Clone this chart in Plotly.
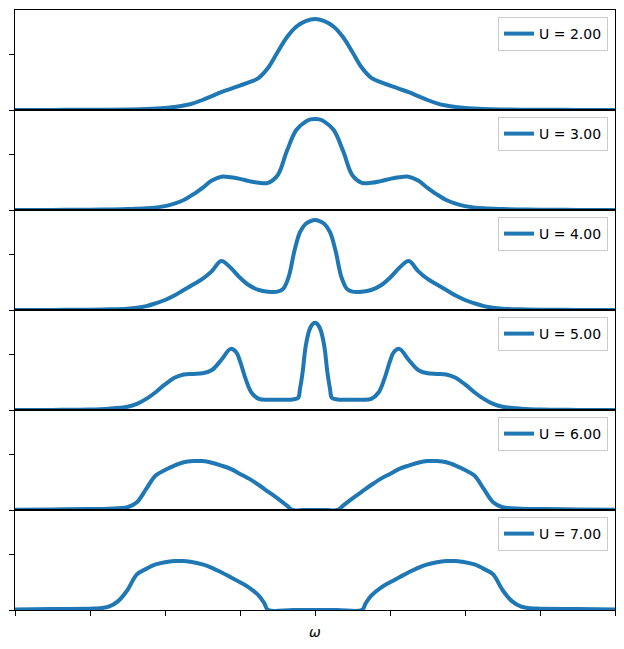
import plotly.graph_objects as go
from plotly.subplots import make_subplots

# ---- data (omega, spectral function) ----
w_u2 = [-8, -7, -6, -5.5, -5, -4.5, -4, -3.75, -3.5, -3.25, -3, -2.75, -2.5, -2.25, -2, -1.75, -1.5, -1.25, -1, -0.75, -0.5, -0.25, 0,
        0.25, 0.5, 0.75, 1, 1.25, 1.5, 1.75, 2, 2.25, 2.5, 2.75, 3, 3.25, 3.5, 3.75, 4, 4.5, 5, 5.5, 6, 7, 8]
a_u2 = [0.0, 0.001, 0.002, 0.003, 0.005, 0.009, 0.018, 0.027, 0.04, 0.06, 0.09, 0.125, 0.16, 0.19, 0.22, 0.25, 0.29, 0.38, 0.52, 0.655, 0.75, 0.80, 0.82,
        0.80, 0.75, 0.655, 0.52, 0.38, 0.29, 0.25, 0.22, 0.19, 0.16, 0.125, 0.09, 0.06, 0.04, 0.027, 0.018, 0.009, 0.005, 0.003, 0.002, 0.001, 0.0]

w_u3 = [-8, -7, -6, -5.5, -5, -4.5, -4, -3.75, -3.5, -3.25, -3, -2.75, -2.5, -2.25, -2, -1.75, -1.5, -1.25, -1, -0.75, -0.5, -0.25, -0.12, 0,
        0.12, 0.25, 0.5, 0.75, 1, 1.25, 1.5, 1.75, 2, 2.25, 2.5, 2.75, 3, 3.25, 3.5, 3.75, 4, 4.5, 5, 5.5, 6, 7, 8]
a_u3 = [0.0, 0.001, 0.003, 0.005, 0.008, 0.015, 0.035, 0.058, 0.09, 0.14, 0.20, 0.265, 0.30, 0.295, 0.28, 0.26, 0.245, 0.245, 0.31, 0.53, 0.72, 0.795, 0.815, 0.82,
        0.815, 0.795, 0.72, 0.53, 0.31, 0.245, 0.245, 0.26, 0.28, 0.295, 0.30, 0.265, 0.20, 0.14, 0.09, 0.058, 0.035, 0.015, 0.008, 0.005, 0.003, 0.001, 0.0]

w_u4 = [-8, -7, -6, -5.5, -5, -4.75, -4.5, -4.25, -4, -3.75, -3.5, -3.25, -3, -2.75, -2.5, -2.25, -2, -1.75, -1.5, -1.25, -1, -0.85, -0.7, -0.55, -0.4, -0.25, -0.12, 0,
        0.12, 0.25, 0.4, 0.55, 0.7, 0.85, 1, 1.25, 1.5, 1.75, 2, 2.25, 2.5, 2.75, 3, 3.25, 3.5, 3.75, 4, 4.25, 4.5, 4.75, 5, 5.5, 6, 7, 8]
a_u4 = [0.0, 0.001, 0.003, 0.006, 0.012, 0.02, 0.035, 0.06, 0.09, 0.13, 0.18, 0.23, 0.28, 0.35, 0.44, 0.38, 0.29, 0.22, 0.18, 0.165, 0.165, 0.19, 0.30, 0.53, 0.70, 0.775, 0.80, 0.81,
        0.80, 0.775, 0.70, 0.53, 0.30, 0.19, 0.165, 0.165, 0.18, 0.22, 0.29, 0.38, 0.44, 0.35, 0.28, 0.23, 0.18, 0.13, 0.09, 0.06, 0.035, 0.02, 0.012, 0.006, 0.003, 0.001, 0.0]

w_u5 = [-8, -7, -6, -5.5, -5, -4.75, -4.5, -4.25, -4, -3.75, -3.5, -3.25, -3, -2.75, -2.5, -2.25, -2.1, -2, -1.85, -1.7, -1.5,
        -1.25, -1, -0.75, -0.6, -0.45, -0.4, -0.33, -0.25, -0.15, -0.07, 0,
        0.07, 0.15, 0.25, 0.33, 0.4, 0.45, 0.6, 0.75, 1, 1.25,
        1.5, 1.7, 1.85, 2, 2.1, 2.25, 2.5, 2.75, 3, 3.25, 3.5, 3.75, 4, 4.25, 4.5, 4.75, 5, 5.5, 6, 7, 8]
a_u5 = [0.0, 0.001, 0.004, 0.012, 0.03, 0.055, 0.10, 0.16, 0.23, 0.29, 0.32, 0.325, 0.33, 0.36, 0.45, 0.55, 0.52, 0.44, 0.28, 0.16, 0.10,
        0.092, 0.092, 0.092, 0.095, 0.11, 0.19, 0.34, 0.57, 0.72, 0.77, 0.785,
        0.77, 0.72, 0.57, 0.34, 0.19, 0.11, 0.095, 0.092, 0.092, 0.092,
        0.10, 0.16, 0.28, 0.44, 0.52, 0.55, 0.45, 0.36, 0.33, 0.325, 0.32, 0.29, 0.23, 0.16, 0.10, 0.055, 0.03, 0.012, 0.004, 0.001, 0.0]

w_u6 = [-8, -7, -6, -5.5, -5, -4.75, -4.5, -4.25, -4, -3.75, -3.5, -3.25, -3, -2.75, -2.5, -2.25, -2, -1.75, -1.5, -1.25, -1, -0.75, -0.6, -0.3, 0,
        0.3, 0.6, 0.75, 1, 1.25, 1.5, 1.75, 2, 2.25, 2.5, 2.75, 3, 3.25, 3.5, 3.75, 4, 4.25, 4.5, 4.75, 5, 5.5, 6, 7, 8]
a_u6 = [0.003, 0.005, 0.008, 0.012, 0.025, 0.07, 0.19, 0.31, 0.36, 0.40, 0.43, 0.44, 0.44, 0.425, 0.40, 0.37, 0.325, 0.28, 0.225, 0.165, 0.105, 0.04, 0.0, 0.0, 0.0,
        0.0, 0.0, 0.04, 0.105, 0.165, 0.225, 0.28, 0.325, 0.37, 0.40, 0.425, 0.44, 0.44, 0.43, 0.40, 0.36, 0.31, 0.19, 0.07, 0.025, 0.012, 0.008, 0.005, 0.003]

w_u7 = [-8, -7, -6, -5.75, -5.5, -5.25, -5, -4.75, -4.5, -4.25, -4, -3.75, -3.5, -3.25, -3, -2.75, -2.5, -2.25, -2, -1.75, -1.5, -1.35, -1.25, -0.6, 0,
        0.6, 1.25, 1.35, 1.5, 1.75, 2, 2.25, 2.5, 2.75, 3, 3.25, 3.5, 3.75, 4, 4.25, 4.5, 4.75, 5, 5.25, 5.5, 5.75, 6, 7, 8]
a_u7 = [0.005, 0.008, 0.012, 0.015, 0.03, 0.08, 0.18, 0.32, 0.37, 0.41, 0.43, 0.44, 0.44, 0.43, 0.41, 0.38, 0.34, 0.295, 0.25, 0.20, 0.13, 0.06, 0.0, 0.0, 0.0,
        0.0, 0.0, 0.06, 0.13, 0.20, 0.25, 0.295, 0.34, 0.38, 0.41, 0.43, 0.44, 0.44, 0.43, 0.41, 0.37, 0.32, 0.18, 0.08, 0.03, 0.015, 0.012, 0.008, 0.005]

labels = ["U = 2.00", "U = 3.00", "U = 4.00", "U = 5.00", "U = 6.00", "U = 7.00"]
series = [(w_u2, a_u2), (w_u3, a_u3), (w_u4, a_u4), (w_u5, a_u5), (w_u6, a_u6), (w_u7, a_u7)]
x_ticks = [-8, -6, -4, -2, 0, 2, 4, 6, 8]
y_ticks = [0, 0.5]

# ---- figure ----
W, H = 624, 649
ml, mr, mt, mb = 15, 9, 10, 39
pw, ph = W - ml - mr, H - mt - mb

fig = make_subplots(rows=6, cols=1, shared_xaxes=True, vertical_spacing=0)

for i, ((w, a), lab) in enumerate(zip(series, labels)):
    leg = "legend" if i == 0 else f"legend{i+1}"
    fig.add_trace(go.Scatter(x=w, y=a, mode="lines", name=lab, legend=leg,
                             line=dict(color="#1f77b4", width=4, shape="spline", smoothing=1.0)),
                  row=i + 1, col=1)
    top_px = 17 + 100 * i
    fig.update_layout({leg: dict(x=(608 - ml) / pw, xanchor="right",
                                 y=(mt + ph - top_px) / ph, yanchor="top",
                                 bgcolor="white", bordercolor="#cccccc", borderwidth=1,
                                 font=dict(family="DejaVu Sans", size=14, color="black"),
                                 itemwidth=30)})

fig.update_xaxes(range=[-8, 8], tickvals=x_ticks, showticklabels=False, ticks="",
                 showline=True, mirror=True, linecolor="black", linewidth=1,
                 showgrid=False, zeroline=False)
fig.update_xaxes(ticks="outside", ticklen=5, tickcolor="black", tickwidth=1, row=6, col=1)
fig.update_yaxes(range=[0, 0.9], tickvals=y_ticks, showticklabels=False, ticks="outside",
                 ticklen=5, tickcolor="black", tickwidth=1,
                 showline=True, mirror=True, linecolor="black", linewidth=1,
                 showgrid=False, zeroline=False)

fig.add_annotation(text="<i>ω</i>", x=0.5, y=-(632 - (mt + ph)) / ph, xref="paper", yref="paper",
                   showarrow=False, xanchor="center", yanchor="middle",
                   font=dict(family="DejaVu Sans", size=14, color="black"))

fig.update_layout(width=W, height=H, margin=dict(l=ml, r=mr, t=mt, b=mb),
                  plot_bgcolor="white", paper_bgcolor="white", showlegend=True)

fig.write_html("out.html")
